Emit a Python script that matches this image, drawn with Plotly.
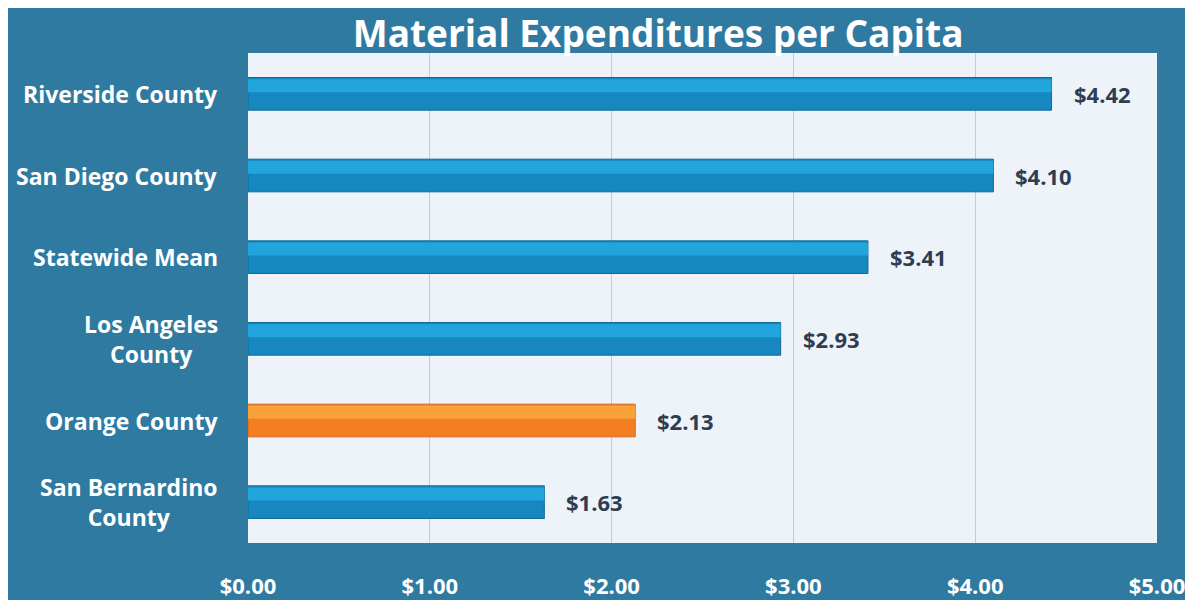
import plotly.graph_objects as go

categories = ["Riverside County", "San Diego County", "Statewide Mean",
              "Los Angeles<br>County", "Orange County", "San Bernardino<br>County"]
values = [4.42, 4.10, 3.41, 2.93, 2.13, 1.63]
bar_colors = ["#1787c0", "#1787c0", "#1787c0", "#1787c0", "#f47f22", "#1787c0"]
hi_colors = ["#22a4dd", "#22a4dd", "#22a4dd", "#22a4dd", "#f9a23a", "#22a4dd"]
line_colors = ["#116a98", "#116a98", "#116a98", "#116a98", "#d8661a", "#116a98"]
tick_vals = [0, 1, 2, 3, 4, 5]
tick_text = ["$0.00", "$1.00", "$2.00", "$3.00", "$4.00", "$5.00"]

FONT = "Open Sans"
BG = "#2f7aa1"

fig = go.Figure()
fig.add_trace(go.Bar(
    y=categories, x=values, orientation="h",
    marker=dict(color=bar_colors, line=dict(color=line_colors, width=1)),
    width=0.4, hoverinfo="skip",
))
fig.add_trace(go.Bar(
    y=categories, x=values, orientation="h",
    marker=dict(color=hi_colors, line=dict(width=0)),
    width=0.16, offset=0.02, hoverinfo="skip",
))

for c, v in zip(categories, values):
    fig.add_annotation(
        x=v, xref="x", y=c, yref="y",
        text=f"${v:.2f}", showarrow=False, xanchor="left", xshift=20,
        font=dict(family=FONT, size=22, color="#2e3d52", weight="bold"),
    )
    fig.add_annotation(
        x=0, xref="paper", y=c, yref="y",
        text=c, showarrow=False, xanchor="right", align="center",
        xshift=-28,
        font=dict(family=FONT, size=23, color="white", weight="bold"),
    )

fig.update_layout(
    width=1193, height=600,
    paper_bgcolor=BG, plot_bgcolor="#eef3f9",
    margin=dict(l=240, r=44, t=45, b=65),
    showlegend=False, barmode="overlay",
    title=dict(text="Material Expenditures per Capita", x=0.545, xanchor="center",
               y=0.957, yanchor="middle",
               font=dict(family=FONT, size=37, color="white", weight="bold")),
    xaxis=dict(range=[0, 5], tickvals=tick_vals, ticktext=tick_text,
               showgrid=True, gridcolor="#c5cad3", gridwidth=1, zeroline=False,
               ticks="", ticklabelstandoff=28, automargin=False,
               tickfont=dict(family=FONT, size=22, color="white", weight="bold"),
               fixedrange=True),
    yaxis=dict(categoryorder="array", categoryarray=categories[::-1],
               showticklabels=False, showgrid=False, fixedrange=True,
               automargin=False),
)

fig.write_html("out.html")
